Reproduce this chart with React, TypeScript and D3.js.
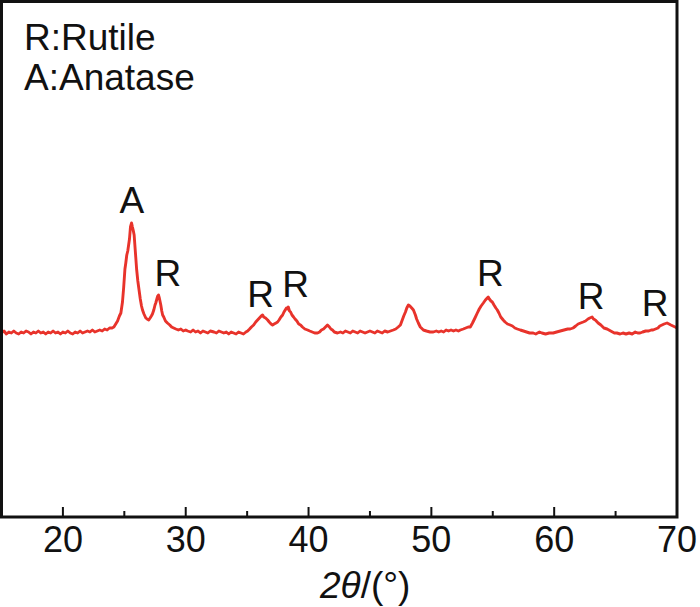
import React from "react";
import * as d3 from "d3";

const theta: number[] = [
  15.0, 15.2, 15.4, 15.6, 15.8, 16.0, 16.2, 16.4, 16.6, 16.8, 17.0, 17.2, 17.4, 17.6, 17.8, 18.0, 18.2, 18.4, 18.6, 18.8,
  19.0, 19.2, 19.4, 19.6, 19.8, 20.0, 20.2, 20.4, 20.6, 20.8, 21.0, 21.2, 21.4, 21.6, 21.8, 22.0, 22.2, 22.4, 22.6, 22.8,
  23.0, 23.2, 23.4, 23.6, 23.8, 24.0, 24.15, 24.3, 24.45, 24.6, 24.72, 24.85, 24.95, 25.05, 25.12, 25.2, 25.28, 25.35, 25.42, 25.5,
  25.59, 25.66, 25.72, 25.8, 25.87, 25.93, 26.0, 26.1, 26.2, 26.3, 26.4, 26.48, 26.6, 26.75, 26.85, 26.99, 27.1, 27.2, 27.29, 27.4,
  27.5, 27.56, 27.65, 27.72, 27.78, 27.85, 27.92, 27.97, 28.05, 28.12, 28.21, 28.35, 28.51, 28.7, 28.85, 29.02, 29.2, 29.4, 29.6, 29.8,
  30.0, 30.16, 30.4, 30.6, 30.8, 31.0, 31.2, 31.4, 31.6, 31.8, 32.0, 32.3, 32.5, 32.7, 32.9, 33.1, 33.3, 33.5, 33.7, 33.9,
  34.1, 34.3, 34.5, 34.7, 34.9, 35.04, 35.2, 35.35, 35.53, 35.7, 35.85, 36.0, 36.15, 36.26, 36.35, 36.5, 36.67, 36.8, 36.95, 37.07,
  37.2, 37.35, 37.48, 37.6, 37.75, 37.89, 38.0, 38.1, 38.2, 38.29, 38.35, 38.45, 38.54, 38.65, 38.78, 38.9, 39.05, 39.2, 39.35, 39.5,
  39.7, 39.92, 40.1, 40.3, 40.5, 40.73, 40.9, 41.05, 41.22, 41.38, 41.54, 41.7, 41.82, 41.95, 42.1, 42.36, 42.6, 42.8, 43.0, 43.2,
  43.4, 43.6, 43.8, 44.0, 44.2, 44.4, 44.6, 44.8, 45.0, 45.2, 45.4, 45.6, 45.8, 46.0, 46.2, 46.45, 46.67, 46.9, 47.1, 47.3,
  47.48, 47.6, 47.75, 47.89, 48.0, 48.13, 48.25, 48.4, 48.54, 48.7, 48.8, 48.94, 49.1, 49.35, 49.6, 49.9, 50.16, 50.4, 50.6, 50.8,
  51.0, 51.2, 51.4, 51.6, 51.8, 52.0, 52.2, 52.36, 52.6, 52.8, 53.0, 53.17, 53.35, 53.55, 53.74, 53.9, 54.05, 54.23, 54.4, 54.55,
  54.63, 54.72, 54.85, 54.96, 55.1, 55.25, 55.37, 55.5, 55.65, 55.85, 56.0, 56.2, 56.42, 56.6, 56.8, 57.0, 57.24, 57.5, 57.75, 58.0,
  58.29, 58.5, 58.8, 59.0, 59.3, 59.6, 59.92, 60.2, 60.5, 60.8, 61.1, 61.3, 61.54, 61.75, 61.95, 62.15, 62.36, 62.55, 62.75, 62.9,
  63.09, 63.2, 63.35, 63.58, 63.8, 64.05, 64.31, 64.6, 64.9, 65.1, 65.37, 65.6, 65.85, 66.1, 66.35, 66.6, 66.8, 66.99, 67.2, 67.45,
  67.7, 67.9, 68.05, 68.25, 68.45, 68.6, 68.78, 68.95, 69.19, 69.35, 69.5, 69.67, 69.85, 70.0,
];

const intensity: number[] = [
  184, 186, 183, 185, 184, 186, 184, 183, 185, 184, 186, 185, 183, 185, 184, 186, 184, 185, 183, 185,
  184, 186, 184, 185, 183, 185, 184, 186, 184, 183, 185, 184, 186, 184, 185, 186, 185, 187, 185, 186,
  187, 186, 188, 187, 189, 189, 190, 193, 196, 201, 204, 215, 230, 248, 254, 262, 266, 272, 278, 290,
  294, 290, 287, 282, 270, 260, 248, 236, 227, 218, 211, 207, 203, 199, 198, 197, 199, 201, 203, 207,
  212, 214, 218, 221, 222, 219, 215, 212, 206, 202, 200, 196, 194, 192, 190, 189, 188, 187, 188, 186,
  187, 186, 185, 187, 185, 186, 184, 186, 185, 184, 186, 185, 184, 186, 185, 184, 185, 183, 185, 184,
  183, 185, 184, 183, 185, 186, 188, 190, 192, 195, 197, 199, 201, 202, 200, 199, 197, 195, 193, 192,
  193, 194, 195, 197, 200, 202, 205, 207, 209, 208, 210, 206, 205, 202, 200, 198, 196, 193, 192, 190,
  188, 187, 186, 185, 184, 184, 185, 187, 188, 190, 192, 190, 188, 187, 185, 184, 185, 184, 186, 185,
  184, 186, 185, 184, 186, 185, 184, 185, 186, 185, 184, 186, 185, 184, 186, 185, 186, 187, 188, 190,
  192, 196, 201, 205, 209, 212, 211, 209, 207, 202, 198, 194, 190, 187, 186, 185, 185, 186, 185, 186,
  185, 187, 186, 187, 186, 187, 186, 187, 188, 189, 190, 190, 194, 199, 204, 208, 211, 214, 217, 219,
  220, 218, 216, 215, 212, 209, 207, 204, 200, 197, 195, 193, 192, 191, 189, 188, 187, 186, 185, 184,
  184, 183, 185, 184, 183, 184, 184, 185, 186, 187, 188, 188, 189, 191, 193, 194, 195, 196, 198, 199,
  200, 198, 197, 194, 192, 189, 188, 186, 184, 184, 183, 184, 183, 184, 183, 185, 184, 184, 185, 186,
  186, 187, 187, 188, 189, 191, 192, 193, 194, 193, 192, 191, 190, 189,
];

const peakLabels: string[] = ["A", "R", "R", "R", "R", "R", "R"];
const peakTheta: number[] = [25.61, 28.54, 36.1, 38.94, 54.8, 63.01, 68.21];
const peakIntensity: number[] = [304, 231, 210, 220, 231, 208, 201];

const legendLines: string[] = ["R:Rutile", "A:Anatase"];
const xTicksMajor: number[] = [20, 30, 40, 50, 60, 70];
const xTicksMinor: number[] = [25, 35, 45, 55, 65];

const W = 700;
const H = 607;
const FONT = "'Liberation Sans', Arial, Helvetica, sans-serif";

export default function App() {
  const left = 1.5;
  const right = 677;
  const top = 1.5;
  const bottom = 517;

  const x = d3.scaleLinear().domain([15, 70]).range([left, right]);
  const y = d3.scaleLinear().domain([0, 515]).range([517, 2]);

  const pts: [number, number][] = theta.map((t, i) => [t, intensity[i]]);
  const line = d3
    .line<[number, number]>()
    .x((d) => x(d[0]))
    .y((d) => y(d[1]))
    .curve(d3.curveLinear);

  return (
    <svg
      width={W}
      height={H}
      viewBox={`0 0 ${W} ${H}`}
      style={{ position: "absolute", left: 0, top: 0, background: "#fff" }}
    >
      <rect x={0} y={0} width={W} height={H} fill="#fff" />
      <path d={line(pts) || ""} fill="none" stroke="#e8332b" strokeWidth={2.9} strokeLinejoin="round" />

      {xTicksMajor.map((t) => (
        <line key={"M" + t} x1={x(t)} x2={x(t)} y1={bottom} y2={bottom - 10} stroke="#111" strokeWidth={2} />
      ))}
      {xTicksMinor.map((t) => (
        <line key={"m" + t} x1={x(t)} x2={x(t)} y1={bottom} y2={bottom - 6} stroke="#111" strokeWidth={2} />
      ))}
      <rect
        x={left}
        y={top}
        width={right - left}
        height={bottom - top}
        fill="none"
        stroke="#111"
        strokeWidth={3}
      />

      {xTicksMajor.map((t) => (
        <text
          key={"l" + t}
          x={x(t)}
          y={552}
          textAnchor="middle"
          fontFamily={FONT}
          fontSize={36}
          fill="#111"
        >
          {t}
        </text>
      ))}

      <text x={320} y={598} fontFamily={FONT} fontSize={37} fill="#111">
        <tspan fontStyle="italic">2θ</tspan>
        <tspan>/(°)</tspan>
      </text>

      {legendLines.map((s, i) => (
        <text key={s} x={24} y={50 + i * 40} fontFamily={FONT} fontSize={37} fill="#111">
          {s}
        </text>
      ))}

      {peakLabels.map((s, i) => (
        <text
          key={"p" + i}
          x={x(peakTheta[i])}
          y={y(peakIntensity[i])}
          textAnchor="middle"
          fontFamily={FONT}
          fontSize={37}
          fill="#111"
        >
          {s}
        </text>
      ))}
    </svg>
  );
}
